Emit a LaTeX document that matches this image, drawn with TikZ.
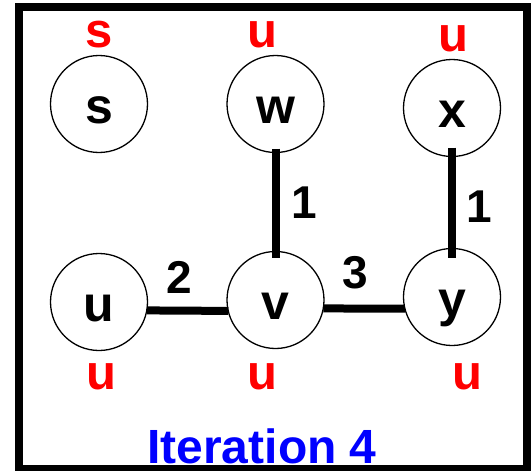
\documentclass[tikz,border=0pt]{standalone}
\usepackage{fontspec}
\setmainfont{Liberation Sans}
\begin{document}
\begin{tikzpicture}[x=1pt,y=-1pt,
  vert/.style={circle,draw,line width=1.3pt,minimum size=97pt,inner sep=0pt,outer sep=0pt,
    font=\fontsize{50}{60}\selectfont\bfseries,text height=38pt,text depth=0pt},
  status/.style={text=red,anchor=base,inner sep=0pt,font=\fontsize{49}{58}\selectfont\bfseries},
  wt/.style={anchor=base,inner sep=0pt,font=\fontsize{46}{55}\selectfont\bfseries},
  wline/.style={line width=8pt},
  title/.style={text=blue,anchor=base,inner sep=0pt,font=\fontsize{48}{58}\selectfont\bfseries}
]
\useasboundingbox (0,0) rectangle (531,471);
\draw[line width=8pt] (19,7) rectangle (527,469);
% vertices
\node[vert] (s) at (99,104) {s};
\node[vert] (w) at (275.5,104) {w};
\node[vert] (x) at (452,108) {x};
\node[vert] (u) at (99,302) {u};
\node[vert] (v) at (275.5,300) {v};
\node[vert] (y) at (452,297) {y};
% edges
\draw[wline] ([yshift=4pt]w.south) -- ([yshift=-6pt]v.north);
\draw[wline] ([yshift=9pt]x.south) -- ([yshift=-9.5pt]y.north);
\draw[wline] (u.-10.7) -- (v.193.1);
\draw[wline] (v.-10.7) -- (y.194.3);
% weights
\node[wt] (w1) at (304,218) {1};
\node[wt] (w2) at (479,222) {1};
\node[wt] (w3) at (179,293) {2};
\node[wt] (w4) at (355,288) {3};
% status labels
\node[status] (ls) at (99,47) {s};
\node[status] (lw) at (262,47) {u};
\node[status] (lx) at (453.5,51) {u};
\node[status] (lu) at (101,389) {u};
\node[status] (lv) at (262,389) {u};
\node[status] (ly) at (467,389) {u};
% title
\node[title] (t) at (262,463) {Iteration 4};
\end{tikzpicture}
\end{document}
